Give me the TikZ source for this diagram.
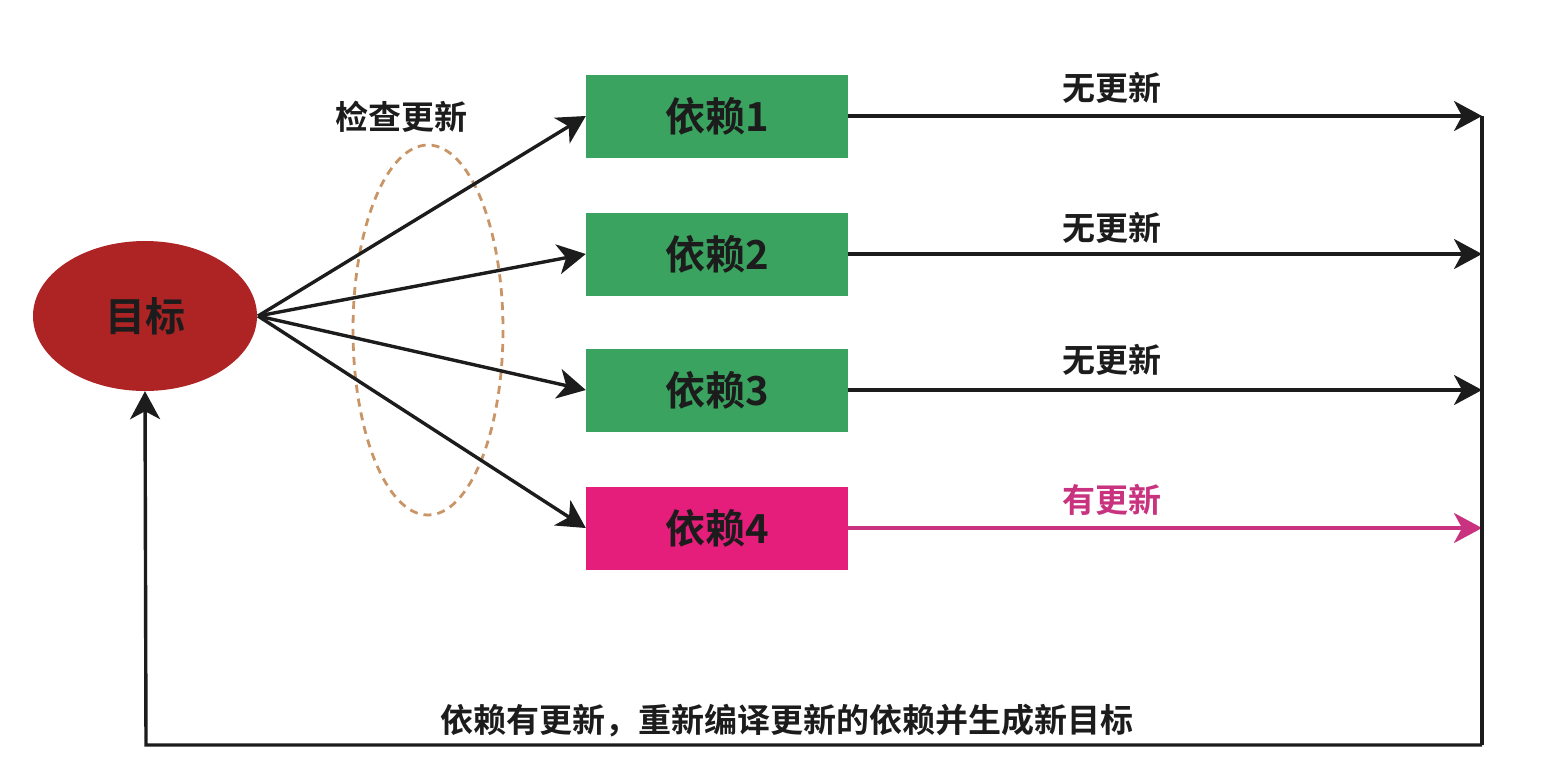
\documentclass[tikz,border=0pt]{standalone}
\usepackage{fontspec}
\setmainfont{Noto Sans CJK SC}[BoldFont={* Bold}]
\usetikzlibrary{arrows.meta,shapes.geometric}
\definecolor{tgtred}{HTML}{AE2424}
\definecolor{depgreen}{HTML}{3AA360}
\definecolor{deppink}{HTML}{E41E7A}
\definecolor{updpink}{HTML}{C8327F}
\definecolor{dashbrown}{HTML}{C99466}
\definecolor{txtdark}{HTML}{1C1C1C}
\begin{document}
\begin{tikzpicture}[x=1pt,y=-1pt,
  every node/.style={font=\bfseries\fontsize{40}{44}\selectfont, text=txtdark},
  depbox/.style={rectangle, minimum width=262pt, minimum height=83pt, inner sep=0pt},
  conn/.style={line width=3.4pt, draw=txtdark, -{Stealth[length=28pt,width=30pt,inset=8pt]}},
  lbl/.style={font=\bfseries\fontsize{33}{36}\selectfont}
]
\useasboundingbox (0,0) rectangle (1560,772);
\node[ellipse, fill=tgtred, minimum width=224pt, minimum height=150pt, inner sep=0pt, font=\bfseries\fontsize{40}{44}\selectfont] (tgt) at (145,316) {目标};
\node[depbox, fill=depgreen] (d1) at (717,116) {依赖1};
\node[depbox, fill=depgreen] (d2) at (717,254) {依赖2};
\node[depbox, fill=depgreen] (d3) at (717,390) {依赖3};
\node[depbox, fill=deppink] (d4) at (717,528) {依赖4};
\draw[dashbrown, line width=2.8pt, dash pattern=on 8pt off 6pt] (428,330) ellipse [x radius=75, y radius=185];
\node[lbl] (chk) at (401,117) {检查更新};
\coordinate (src) at (258,316);
\foreach \d in {d1,d2,d3,d4} \draw[conn] (src) -- (\d.west);
\coordinate (e1) at (1482,116);
\coordinate (e2) at (1482,254);
\coordinate (e3) at (1482,390);
\coordinate (e4) at (1482,528);
\draw[conn] (d1.east) -- (e1);
\draw[conn] (d2.east) -- (e2);
\draw[conn] (d3.east) -- (e3);
\draw[conn, draw=updpink, -{Stealth[length=28pt,width=30pt,inset=8pt,fill=updpink]}] (d4.east) -- (e4);
\node[lbl] (n1) at (1112,88) {无更新};
\node[lbl] (n2) at (1112,228) {无更新};
\node[lbl] (n3) at (1112,360) {无更新};
\node[lbl, text=updpink] (n4) at (1112,500) {有更新};
\coordinate (br) at (1482,745);
\coordinate (bl) at (146,745);
\draw[line width=3.4pt, draw=txtdark] (e1) -- (br);
\draw[conn, line join=miter] (br) -- (bl) -- (tgt.south);
\node[lbl] (note) at (787,721) {依赖有更新，重新编译更新的依赖并生成新目标};
\end{tikzpicture}
\end{document}
